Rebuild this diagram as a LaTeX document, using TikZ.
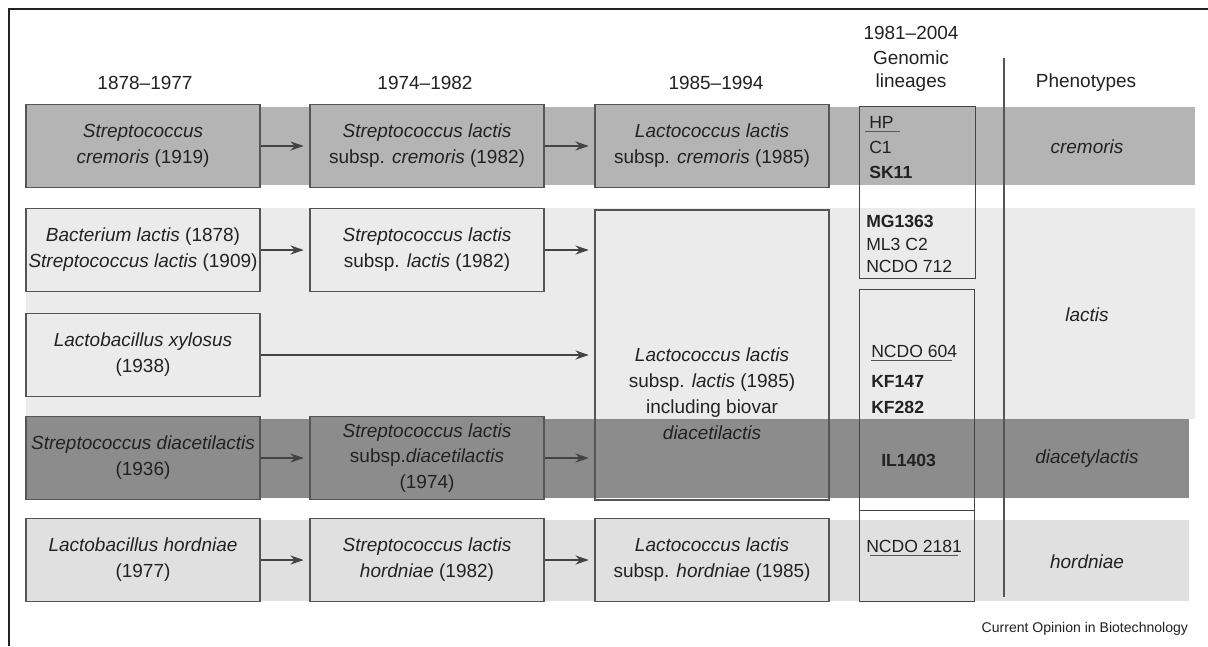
\documentclass[tikz,border=0pt]{standalone}
\usepackage{fontspec}
\setmainfont{Liberation Sans}
\usepackage{xcolor}
\usepackage{tikz}
\usetikzlibrary{arrows.meta}

\definecolor{crembg}{HTML}{B4B4B4}
\definecolor{lacbg}{HTML}{EBEBEB}
\definecolor{diabg}{HTML}{8C8C8C}
\definecolor{horbg}{HTML}{E0E0E0}
\definecolor{edge}{HTML}{555555}
\definecolor{ink}{HTML}{222222}

\begin{document}
\begin{tikzpicture}[x=0.025cm, y=-0.025cm,
        every node/.style={text=ink, font=\fontsize{13.5}{18.4}\selectfont},
        taxon/.style={draw=edge, line width=0.9pt, minimum width=5.85cm, minimum height=2.07cm, align=center, inner sep=0pt},
        genbox/.style={draw=ink!85, line width=0.7pt, inner sep=0pt},
        strain/.style={anchor=base west, inner sep=0pt, text depth=0.25em, font=\fontsize{12.5}{15}\selectfont},
        link/.style={draw=ink!85, line width=0.9pt, -{Stealth[length=9.5pt,width=6.5pt]}, shorten >=4pt}]
        \useasboundingbox (0,0) rectangle (1208,646);
        \fill[white] (0,0) rectangle (1208,646);

        \fill[crembg] (26,107) rectangle (1195,185);
        \fill[lacbg]  (26,208) rectangle (1195,419);
        \fill[diabg]  (26,419) rectangle (1189,498);
        \fill[horbg]  (26,520) rectangle (1189,601);

        \draw[ink, line width=1pt] (1208,9) -- (9,9) -- (9,646);

        \node (yr1) at (145,83) {1878--1977};
        \node (yr2) at (425,83) {1974--1982};
        \node (yr3) at (716,83) {1985--1994};
        \node (yr4) at (911,33) {1981--2004};
        \node (gen) at (911,58) {Genomic};
        \node (lin) at (911,83) {lineages};
        \node (phen) at (1086,83) {Phenotypes};

        \node[taxon, fill=crembg] (crem1) at (143,146) {\textit{Streptococcus}\\\textit{cremoris} (1919)};
        \node[taxon, fill=lacbg]  (lac1)  at (143,250) {\textit{Bacterium lactis} (1878)\\\textit{Streptococcus lactis} (1909)};
        \node[taxon, fill=lacbg]  (xyl1)  at (143,355) {\textit{Lactobacillus xylosus}\\(1938)};
        \node[taxon, fill=diabg]  (dia1)  at (143,458) {\textit{Streptococcus diacetilactis}\\(1936)};
        \node[taxon, fill=horbg]  (hor1)  at (143,560) {\textit{Lactobacillus hordniae}\\(1977)};

        \node[taxon, fill=crembg] (crem2) at (427,146) {\textit{Streptococcus lactis}\\subsp. \textit{cremoris} (1982)};
        \node[taxon, fill=lacbg]  (lac2)  at (427,250) {\textit{Streptococcus lactis}\\subsp. \textit{lactis} (1982)};
        \node[taxon, fill=diabg]  (dia2)  at (427,458) {\textit{Streptococcus lactis}\\subsp.\textit{diacetilactis}\\(1974)};
        \node[taxon, fill=horbg]  (hor2)  at (427,560) {\textit{Streptococcus lactis}\\\textit{hordniae} (1982)};

        \node[taxon, fill=crembg] (crem3) at (712,146) {\textit{Lactococcus lactis}\\subsp. \textit{cremoris} (1985)};
        \node[taxon, minimum height=7.25cm] (big) at (712,355) {};
        \node[align=center] (lacdesc) at (712,394) {\textit{Lactococcus lactis}\\subsp. \textit{lactis} (1985)\\including biovar\\\textit{diacetilactis}};
        \node[taxon, fill=horbg]  (hor3)  at (712,560) {\textit{Lactococcus lactis}\\subsp. \textit{hordniae} (1985)};

        \draw[link] (crem1) -- (crem2);
        \draw[link] (crem2) -- (crem3);
        \draw[link] (lac1) -- (lac2);
        \draw[link] (lac2.east) -- (lac2.east -| big.west);
        \draw[link] (xyl1) -- (big);
        \draw[link] (dia1) -- (dia2);
        \draw[link] (dia2.east) -- (dia2.east -| big.west);
        \draw[link] (hor1) -- (hor2);
        \draw[link] (hor2) -- (hor3);

        \node[genbox, minimum width=2.9cm, minimum height=4.275cm] (gen1) at (917,192.5) {};
        \node[genbox, minimum width=2.875cm, minimum height=5.5cm] (gen2) at (916.5,400) {};
        \node[genbox, minimum width=2.875cm, minimum height=2.275cm] (gen3) at (916.5,555.5) {};

        \node[strain] (hp)       at (869,128) {HP};
        \node[strain] (c1)       at (869,153) {C1};
        \node[strain] (sk11)     at (869,178) {\textbf{SK11}};
        \node[strain] (mg1363)   at (866,227) {\textbf{MG1363}};
        \node[strain] (ml3)      at (866,250) {ML3 C2};
        \node[strain] (ncdo712)  at (866,272) {NCDO 712};
        \node[strain] (ncdo604)  at (871,357) {NCDO 604};
        \node[strain] (kf147)    at (871,387) {\textbf{KF147}};
        \node[strain] (kf282)    at (871,413) {\textbf{KF282}};
        \node[strain] (il1403)   at (881,466) {\textbf{IL1403}};
        \node[strain] (ncdo2181) at (866,552) {NCDO 2181};

        \draw[edge, line width=0.7pt] ([xshift=-3pt]hp.south west) -- ([xshift=4pt]hp.south east);
        \draw[edge, line width=0.7pt] (ncdo604.south west) -- ([xshift=-4pt]ncdo604.south east);
        \draw[edge, line width=0.7pt] ([xshift=3pt]ncdo2181.south west) -- ([xshift=-3pt]ncdo2181.south east);

        \draw[edge, line width=0.8pt] (1004,58) -- (1004,597);

        \node (phcrem) at (1087,147) {\textit{cremoris}};
        \node (phlac)  at (1087,315) {\textit{lactis}};
        \node (phdia)  at (1087,459) {\textit{diacetylactis}};
        \node (phhor)  at (1087,562) {\textit{hordniae}};

        \node[anchor=east, font=\fontsize{10}{12}\selectfont] (credit) at (1193,629) {Current Opinion in Biotechnology};
    \end{tikzpicture}
\end{document}
